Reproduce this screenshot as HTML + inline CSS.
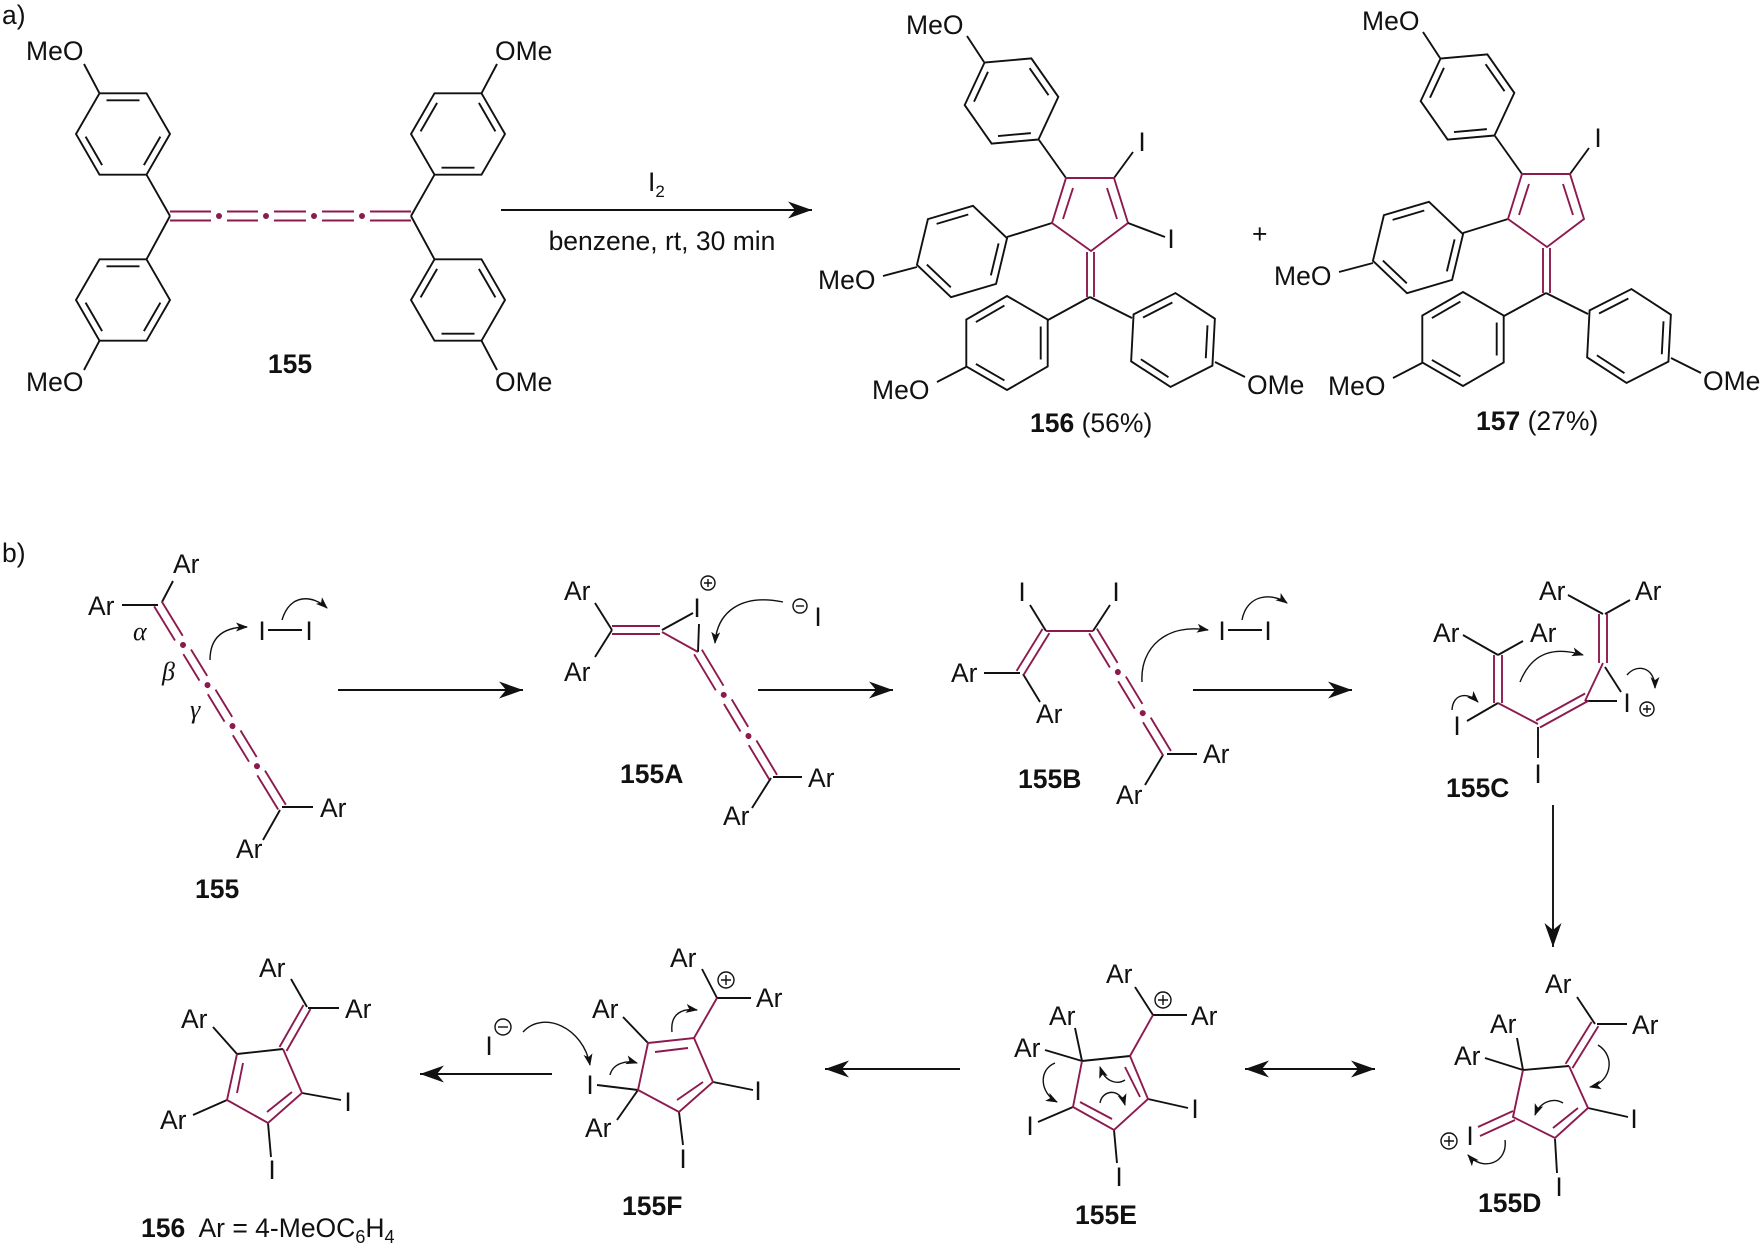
<!DOCTYPE html>
<html><head><meta charset="utf-8"><style>
html,body{margin:0;padding:0;background:#fff;}
svg{display:block;}
text{font-family:"Liberation Sans",Arial,sans-serif;font-size:26.5px;fill:#111;}
.b{font-weight:bold;}
.g{font-family:"Liberation Serif",serif;font-style:italic;font-size:26px;}
.k{stroke:#111;stroke-width:1.9;fill:none;}
.r{stroke:#8c1a4f;stroke-width:1.9;fill:none;}
.c{stroke:#111;stroke-width:1.4;fill:none;}
</style></head><body>
<svg width="1762" height="1247" viewBox="0 0 1762 1247" xmlns="http://www.w3.org/2000/svg">
<defs>
<g id="ring" class="k">
<polygon points="-23.5,-40.7 23.5,-40.7 47,0 23.5,40.7 -23.5,40.7 -47,0"/>
<line x1="-16.5" y1="-33.7" x2="16.5" y2="-33.7"/>
<line x1="37.4" y1="2.6" x2="20.9" y2="31.1"/>
<line x1="-37.4" y1="2.6" x2="-20.9" y2="31.1"/>
</g>
<marker id="ah" markerUnits="userSpaceOnUse" markerWidth="30" markerHeight="20" refX="0" refY="0" viewBox="-26 -10 30 20" orient="auto"><path d="M0,0 L-24,-8.5 L-17,0 L-24,8.5 Z" fill="#111"/></marker>
<marker id="ahs" markerUnits="userSpaceOnUse" markerWidth="30" markerHeight="20" refX="0" refY="0" viewBox="-26 -10 30 20" orient="auto-start-reverse"><path d="M0,0 L-24,-8.5 L-17,0 L-24,8.5 Z" fill="#111"/></marker>
<marker id="sh" markerUnits="userSpaceOnUse" markerWidth="16" markerHeight="12" refX="0" refY="0" viewBox="-14 -6 16 12" orient="auto"><path d="M1,0 L-11,-4.5 L-8,0 L-11,4.5 Z" fill="#111"/></marker>
</defs>

<!-- ===== a) ===== -->
<text x="2" y="24">a)</text>
<use href="#ring" transform="translate(123,134)"/>
<use href="#ring" transform="translate(123,300)"/>
<use href="#ring" transform="translate(458,134) rotate(180)"/>
<use href="#ring" transform="translate(458,300) rotate(180)"/>
<g class="k">
<line x1="146.5" y1="174.7" x2="170" y2="216"/>
<line x1="146.5" y1="259.3" x2="170" y2="216"/>
<line x1="434.5" y1="174.7" x2="411" y2="216"/>
<line x1="434.5" y1="259.3" x2="411" y2="216"/>
<line x1="99.5" y1="93.3" x2="84" y2="64"/>
<line x1="99.5" y1="340.7" x2="84" y2="370"/>
<line x1="481.5" y1="93.3" x2="497" y2="64"/>
<line x1="481.5" y1="340.7" x2="497" y2="370"/>
</g>
<g class="r">
<path d="M170,211.5H211M227,211.5H258M274,211.5H306M322,211.5H354M370,211.5H411"/>
<path d="M170,220.5H211M227,220.5H258M274,220.5H306M322,220.5H354M370,220.5H411"/>
</g>
<g fill="#8c1a4f"><circle cx="219" cy="216" r="3"/><circle cx="266" cy="216" r="3"/><circle cx="314" cy="216" r="3"/><circle cx="362" cy="216" r="3"/></g>
<text x="26" y="60">MeO</text>
<text x="26" y="391">MeO</text>
<text x="495" y="60">OMe</text>
<text x="495" y="391">OMe</text>
<text x="290" y="373" class="b" text-anchor="middle">155</text>

<line x1="501" y1="210" x2="812" y2="210" class="k" marker-end="url(#ah)"/>
<text x="648" y="191">I<tspan font-size="17" dy="6">2</tspan></text>
<text x="662" y="250" text-anchor="middle">benzene, rt, 30 min</text>

<!-- product 156 -->
<g id="p156">
<use href="#ring" transform="translate(1011.5,101) rotate(175)"/>
<use href="#ring" transform="translate(962,251.5) rotate(-16.5)"/>
<use href="#ring" transform="translate(1007,343) rotate(90)"/>
<use href="#ring" transform="translate(1173,340) rotate(93)"/>
<g class="k">
<line x1="1039" y1="140" x2="1066" y2="178"/>
<line x1="984" y1="62" x2="967" y2="36"/>
<line x1="1052" y1="223" x2="1007" y2="237"/>
<line x1="917" y1="267" x2="883" y2="276"/>
<line x1="1090" y1="297" x2="1048" y2="320"/>
<line x1="1090" y1="297" x2="1132" y2="318"/>
<line x1="966" y1="367" x2="937" y2="382"/>
<line x1="1215" y1="362" x2="1245" y2="377"/>
<line x1="1114" y1="178" x2="1133" y2="152"/>
</g>
<g class="r">
<polygon points="1066,178 1114,178 1128,223 1091,251 1052,223"/>
<line x1="1073" y1="188" x2="1063" y2="219"/>
<line x1="1107" y1="188" x2="1117" y2="219"/>
<line x1="1087" y1="252" x2="1087" y2="297"/>
<line x1="1094" y1="252" x2="1094" y2="297"/>
</g>
<text x="906" y="34">MeO</text>
<text x="818" y="289">MeO</text>
<text x="872" y="399">MeO</text>
<text x="1247" y="394">OMe</text>
<text x="1142" y="151" text-anchor="middle">I</text>
</g>
<line x1="1128" y1="223" x2="1165" y2="237" class="k"/>
<text x="1171" y="248" text-anchor="middle">I</text>
<text x="1030" y="432"><tspan class="b">156</tspan> (56%)</text>
<text x="1252" y="243">+</text>
<use href="#p156" transform="translate(456,-4)"/>
<text x="1476" y="430"><tspan class="b">157</tspan> (27%)</text>

<!-- ===== b) ===== -->
<text x="2" y="562">b)</text>
<!-- 155 -->
<g class="k">
<line x1="162" y1="602" x2="173" y2="581"/>
<line x1="122" y1="605" x2="158" y2="605"/>
<line x1="282" y1="807" x2="313" y2="807"/>
<line x1="280" y1="810" x2="263" y2="840"/>
</g>
<g transform="translate(158,604) rotate(58.6)">
<path class="r" d="M0,-4.5H238M0,4.5H238" stroke-dasharray="40 16 31 16 32 16 31 16 40"/>
<g fill="#8c1a4f"><circle cx="48" cy="0" r="3"/><circle cx="95" cy="0" r="3"/><circle cx="143" cy="0" r="3"/><circle cx="190" cy="0" r="3"/></g>
</g>
<text x="173" y="573">Ar</text><text x="88" y="615">Ar</text><text x="320" y="817">Ar</text><text x="236" y="858">Ar</text>
<text x="133" y="640" class="g">α</text><text x="162" y="680" class="g">β</text><text x="190" y="718" class="g">γ</text>
<text x="195" y="898" class="b">155</text>
<path class="c" d="M210,660 C210,632 230,627 247,627" marker-end="url(#sh)"/>
<text x="262" y="640" text-anchor="middle">I</text><text x="309" y="640" text-anchor="middle">I</text>
<line x1="268" y1="630" x2="302" y2="630" class="k"/>
<path class="c" d="M282,620 C290,593 313,595 327,608" marker-end="url(#sh)"/>
<line x1="338" y1="690" x2="523" y2="690" class="k" marker-end="url(#ah)"/>

<!-- 155A -->
<g class="k">
<line x1="595" y1="603" x2="612" y2="630"/>
<line x1="595" y1="657" x2="612" y2="630"/>
<line x1="662" y1="630" x2="693" y2="613"/>
<line x1="698" y1="652" x2="699" y2="624"/>
<line x1="773" y1="777" x2="802" y2="777"/>
<line x1="771" y1="778" x2="752" y2="808"/>
</g>
<g class="r">
<line x1="612" y1="626" x2="660" y2="626"/>
<line x1="612" y1="634" x2="660" y2="634"/>
<line x1="662" y1="632" x2="698" y2="652"/>
</g>
<g transform="translate(698,652) rotate(59)">
<path class="r" d="M0,-4.5H146M0,4.5H146" stroke-dasharray="42 16 32 16 40"/>
<g fill="#8c1a4f"><circle cx="50" cy="0" r="3"/><circle cx="98" cy="0" r="3"/></g>
</g>
<text x="697" y="617" text-anchor="middle">I</text>
<circle cx="708" cy="583" r="7" class="c"/><path d="M704,583H712M708,579V587" class="c"/>
<circle cx="800" cy="606" r="7" class="c"/><path d="M796,606H804" class="c"/>
<text x="818" y="626" text-anchor="middle">I</text>
<path class="c" d="M783,602 C740,593 717,613 715,643" marker-end="url(#sh)"/>
<text x="564" y="600">Ar</text><text x="564" y="681">Ar</text><text x="808" y="787">Ar</text><text x="723" y="825">Ar</text>
<text x="620" y="783" class="b">155A</text>
<line x1="758" y1="690" x2="893" y2="690" class="k" marker-end="url(#ah)"/>

<!-- 155B -->
<g class="k">
<line x1="1030" y1="605" x2="1046" y2="631"/>
<line x1="1110" y1="605" x2="1093" y2="631"/>
<line x1="984" y1="673" x2="1020" y2="673"/>
<line x1="1023" y1="674" x2="1040" y2="702"/>
<line x1="1167" y1="754" x2="1197" y2="754"/>
<line x1="1163" y1="755" x2="1145" y2="785"/>
</g>
<g class="r">
<line x1="1046" y1="631" x2="1093" y2="631"/>
<line x1="1049.4" y1="633.1" x2="1023.4" y2="675.1"/>
<line x1="1042.6" y1="628.9" x2="1016.6" y2="670.9"/>
</g>
<g transform="translate(1093,631) rotate(58.8)">
<path class="r" d="M0,-4.5H143M0,4.5H143" stroke-dasharray="40 16 32 16 39"/>
<g fill="#8c1a4f"><circle cx="48" cy="0" r="3"/><circle cx="96" cy="0" r="3"/></g>
</g>
<text x="1022" y="601" text-anchor="middle">I</text><text x="1116" y="601" text-anchor="middle">I</text>
<text x="951" y="682">Ar</text><text x="1036" y="723">Ar</text><text x="1203" y="763">Ar</text><text x="1116" y="804">Ar</text>
<text x="1018" y="788" class="b">155B</text>
<path class="c" d="M1142,682 C1140,647 1167,623 1208,630" marker-end="url(#sh)"/>
<text x="1222" y="640" text-anchor="middle">I</text><text x="1268" y="640" text-anchor="middle">I</text>
<line x1="1228" y1="630" x2="1262" y2="630" class="k"/>
<path class="c" d="M1242,620 C1247,593 1273,593 1287,603" marker-end="url(#sh)"/>
<line x1="1193" y1="690" x2="1352" y2="690" class="k" marker-end="url(#ah)"/>

<!-- 155C -->
<g class="k">
<line x1="1463" y1="635" x2="1498" y2="655"/>
<line x1="1523" y1="641" x2="1498" y2="655"/>
<line x1="1568" y1="595" x2="1603" y2="614"/>
<line x1="1630" y1="600" x2="1605" y2="614"/>
<line x1="1498" y1="703" x2="1467" y2="721"/>
<line x1="1538" y1="727" x2="1538" y2="758"/>
<line x1="1585" y1="701" x2="1617" y2="701"/>
<line x1="1605" y1="667" x2="1621" y2="692"/>
</g>
<g class="r">
<line x1="1494" y1="655" x2="1494" y2="703"/>
<line x1="1502" y1="655" x2="1502" y2="703"/>
<line x1="1599" y1="614" x2="1599" y2="663"/>
<line x1="1607" y1="614" x2="1607" y2="663"/>
<line x1="1498" y1="703" x2="1538" y2="724"/>
<line x1="1539.9" y1="727.5" x2="1588.9" y2="700.5"/>
<line x1="1536.1" y1="720.5" x2="1585.1" y2="693.5"/>
<line x1="1585" y1="701" x2="1603" y2="663"/>
</g>
<text x="1433" y="642">Ar</text><text x="1530" y="642">Ar</text><text x="1539" y="600">Ar</text><text x="1635" y="600">Ar</text>
<text x="1457" y="735" text-anchor="middle">I</text>
<text x="1538" y="783" text-anchor="middle">I</text>
<text x="1627" y="712" text-anchor="middle">I</text>
<circle cx="1647" cy="709" r="7" class="c"/><path d="M1643,709H1651M1647,705V713" class="c"/>
<path class="c" d="M1452,710 C1453,693 1468,692 1478,702" marker-end="url(#sh)"/>
<path class="c" d="M1520,682 C1533,650 1557,647 1583,655" marker-end="url(#sh)"/>
<path class="c" d="M1627,675 C1637,663 1655,667 1655,688" marker-end="url(#sh)"/>
<text x="1446" y="797" class="b">155C</text>
<line x1="1553" y1="805" x2="1553" y2="947" class="k" marker-end="url(#ah)"/>

<!-- 155D -->
<g class="k">
<line x1="1523" y1="1070" x2="1569" y2="1066"/>
<line x1="1577" y1="997" x2="1595" y2="1024"/>
<line x1="1597" y1="1024" x2="1627" y2="1024"/>
<line x1="1517" y1="1038" x2="1523" y2="1070"/>
<line x1="1485" y1="1058" x2="1523" y2="1070"/>
<line x1="1588" y1="1108" x2="1628" y2="1117"/>
<line x1="1555" y1="1139" x2="1557" y2="1173"/>
</g>
<g class="r">
<polyline points="1569,1066 1588,1108 1555,1138 1513,1117 1523,1070"/>
<line x1="1553" y1="1128" x2="1578" y2="1108"/>
<line x1="1572.4" y1="1068.1" x2="1598.4" y2="1026.1"/>
<line x1="1565.6" y1="1063.9" x2="1591.6" y2="1021.9"/>
<line x1="1513" y1="1111" x2="1478" y2="1127"/>
<line x1="1515" y1="1120" x2="1480" y2="1136"/>
</g>
<text x="1545" y="993">Ar</text><text x="1632" y="1034">Ar</text><text x="1490" y="1033">Ar</text><text x="1454" y="1065">Ar</text>
<text x="1470" y="1145" text-anchor="middle">I</text>
<circle cx="1449" cy="1141" r="8" class="c"/><path d="M1444,1141H1454M1449,1136V1146" class="c"/>
<text x="1634" y="1128" text-anchor="middle">I</text>
<text x="1559" y="1196" text-anchor="middle">I</text>
<path class="c" d="M1598,1045 C1617,1057 1610,1083 1590,1087" marker-end="url(#sh)"/>
<path class="c" d="M1563,1103 C1553,1097 1540,1102 1535,1115" marker-end="url(#sh)"/>
<path class="c" d="M1505,1140 C1508,1163 1483,1172 1468,1155" marker-end="url(#sh)"/>
<text x="1478" y="1212" class="b">155D</text>
<line x1="1245" y1="1069" x2="1375" y2="1069" class="k" marker-start="url(#ahs)" marker-end="url(#ah)"/>

<!-- 155E -->
<g class="k">
<line x1="1082" y1="1061" x2="1130" y2="1056"/>
<line x1="1135" y1="987" x2="1153" y2="1015"/>
<line x1="1153" y1="1015" x2="1187" y2="1015"/>
<line x1="1075" y1="1028" x2="1082" y2="1061"/>
<line x1="1045" y1="1050" x2="1082" y2="1061"/>
<line x1="1073" y1="1107" x2="1038" y2="1122"/>
<line x1="1148" y1="1099" x2="1188" y2="1108"/>
<line x1="1114" y1="1130" x2="1117" y2="1163"/>
</g>
<g class="r">
<polyline points="1130,1056 1148,1099 1114,1130 1073,1107 1082,1061"/>
<line x1="1125" y1="1067" x2="1140" y2="1097"/>
<line x1="1080" y1="1102" x2="1112" y2="1119"/>
<line x1="1130" y1="1056" x2="1153" y2="1015"/>
</g>
<text x="1106" y="983">Ar</text><text x="1191" y="1025">Ar</text><text x="1049" y="1025">Ar</text><text x="1014" y="1057">Ar</text>
<circle cx="1163" cy="1000" r="8" class="c"/><path d="M1158,1000H1168M1163,995V1005" class="c"/>
<text x="1030" y="1135" text-anchor="middle">I</text>
<text x="1195" y="1118" text-anchor="middle">I</text>
<text x="1119" y="1186" text-anchor="middle">I</text>
<path class="c" d="M1055,1063 C1038,1070 1040,1093 1057,1102" marker-end="url(#sh)"/>
<path class="c" d="M1125,1080 C1117,1085 1105,1082 1100,1067" marker-end="url(#sh)"/>
<path class="c" d="M1100,1103 C1102,1090 1120,1087 1125,1105" marker-end="url(#sh)"/>
<text x="1075" y="1224" class="b">155E</text>
<line x1="960" y1="1069" x2="825" y2="1069" class="k" marker-end="url(#ah)"/>

<!-- 155F -->
<g class="k">
<line x1="702" y1="969" x2="717" y2="998"/>
<line x1="717" y1="998" x2="751" y2="998"/>
<line x1="648" y1="1043" x2="623" y2="1017"/>
<line x1="638" y1="1090" x2="597" y2="1085"/>
<line x1="638" y1="1090" x2="617" y2="1120"/>
<line x1="713" y1="1082" x2="753" y2="1090"/>
<line x1="679" y1="1112" x2="683" y2="1145"/>
</g>
<g class="r">
<polygon points="648,1043 694,1038 713,1082 679,1112 638,1090"/>
<line x1="655" y1="1052" x2="688" y2="1048"/>
<line x1="677" y1="1100" x2="703" y2="1082"/>
<line x1="694" y1="1038" x2="717" y2="998"/>
</g>
<text x="670" y="967">Ar</text><text x="756" y="1007">Ar</text><text x="592" y="1018">Ar</text><text x="585" y="1137">Ar</text>
<circle cx="726" cy="980" r="8" class="c"/><path d="M721,980H731M726,975V985" class="c"/>
<text x="590" y="1094" text-anchor="middle">I</text>
<text x="758" y="1100" text-anchor="middle">I</text>
<text x="683" y="1168" text-anchor="middle">I</text>
<text x="489" y="1055" text-anchor="middle">I</text>
<circle cx="503" cy="1027" r="8" class="c"/><path d="M498,1027H508" class="c"/>
<path class="c" d="M523,1032 C543,1010 583,1027 590,1065" marker-end="url(#sh)"/>
<path class="c" d="M610,1075 C613,1063 627,1060 637,1063" marker-end="url(#sh)"/>
<path class="c" d="M672,1032 C670,1013 683,1008 697,1010" marker-end="url(#sh)"/>
<text x="622" y="1215" class="b">155F</text>
<line x1="552" y1="1074" x2="420" y2="1074" class="k" marker-end="url(#ah)"/>

<!-- 156 (b) -->
<g class="k">
<line x1="237" y1="1054" x2="283" y2="1049"/>
<line x1="291" y1="979" x2="307" y2="1007"/>
<line x1="308" y1="1008" x2="339" y2="1008"/>
<line x1="237" y1="1054" x2="213" y2="1027"/>
<line x1="227" y1="1100" x2="193" y2="1115"/>
<line x1="302" y1="1093" x2="341" y2="1100"/>
<line x1="268" y1="1123" x2="271" y2="1157"/>
</g>
<g class="r">
<polyline points="283,1049 302,1093 268,1123 227,1100 237,1054"/>
<line x1="267" y1="1112" x2="292" y2="1092"/>
<line x1="243" y1="1063" x2="237" y2="1093"/>
<line x1="286.5" y1="1051" x2="310.5" y2="1009"/>
<line x1="279.5" y1="1047" x2="303.5" y2="1005"/>
</g>
<text x="259" y="977">Ar</text><text x="345" y="1018">Ar</text><text x="181" y="1028">Ar</text><text x="160" y="1129">Ar</text>
<text x="348" y="1111" text-anchor="middle">I</text>
<text x="272" y="1179" text-anchor="middle">I</text>
<text x="141" y="1237"><tspan class="b">156</tspan>&#160; Ar = 4-MeOC<tspan font-size="18" dy="6">6</tspan><tspan dy="-6">H</tspan><tspan font-size="18" dy="6">4</tspan></text>
</svg>
</body></html>
